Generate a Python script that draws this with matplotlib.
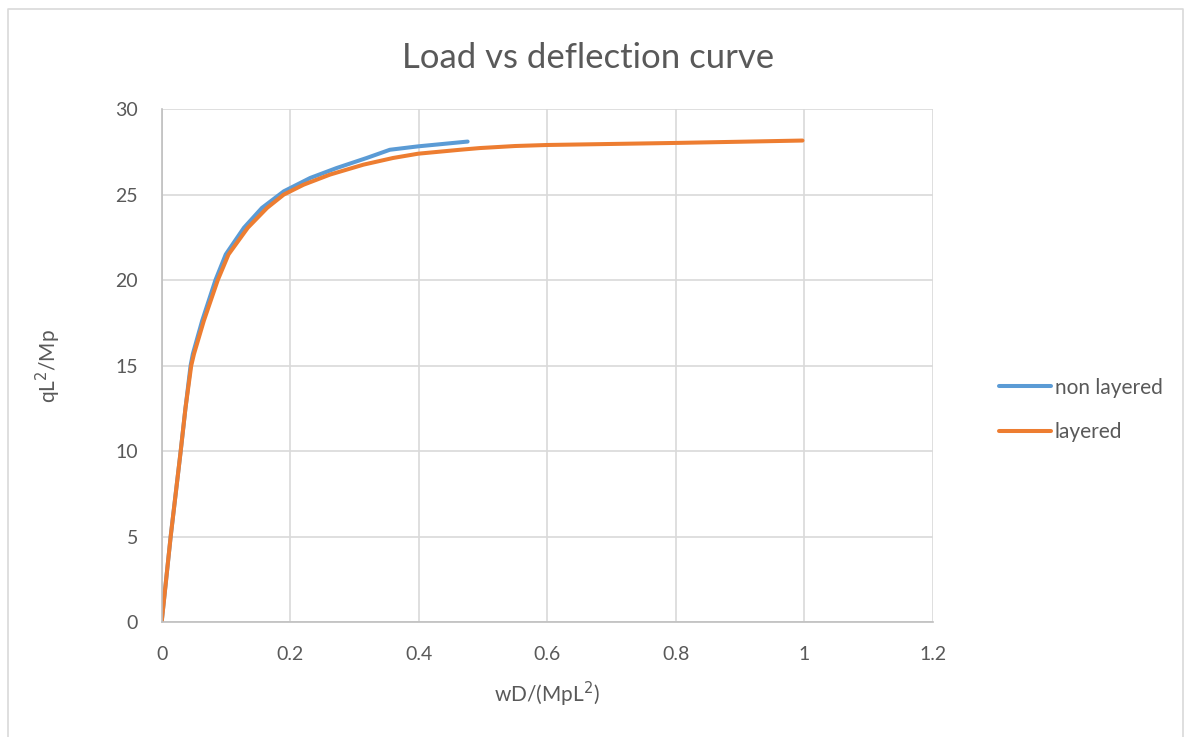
import matplotlib
matplotlib.use('Agg')
import matplotlib.pyplot as plt
from matplotlib.lines import Line2D

plt.rcParams['font.family'] = ['Lato', 'DejaVu Sans']

x_non_layered = [0, 0.014, 0.0296, 0.037, 0.045, 0.0485, 0.063, 0.0837, 0.0997, 0.128, 0.156, 0.190,
                 0.231, 0.272, 0.319, 0.355, 0.399, 0.476]
y_non_layered = [0, 5, 10, 12.5, 15, 15.68, 17.62, 20, 21.5, 23.06, 24.22, 25.19,
                 25.97, 26.55, 27.14, 27.62, 27.82, 28.1]

x_layered = [0, 0.014, 0.0296, 0.037, 0.046, 0.0503, 0.0656, 0.0873, 0.104, 0.134, 0.164, 0.190,
             0.221, 0.262, 0.314, 0.360, 0.399, 0.464, 0.495, 0.55, 0.6, 0.7, 0.8, 0.9, 0.997]
y_layered = [0, 5, 10, 12.5, 15, 15.68, 17.62, 20, 21.5, 23.06, 24.22, 25,
             25.58, 26.17, 26.75, 27.14, 27.39, 27.62, 27.72, 27.84, 27.9, 27.96, 28.02, 28.09, 28.16]

x_ticks = [0, 0.2, 0.4, 0.6, 0.8, 1, 1.2]
x_tick_labels = ['0', '0.2', '0.4', '0.6', '0.8', '1', '1.2']
y_ticks = [0, 5, 10, 15, 20, 25, 30]

blue = '#5B9BD5'
orange = '#ED7D31'
text_col = '#595959'
grid_col = '#D9D9D9'

fig = plt.figure(figsize=(11.87, 7.37), dpi=100)
ax = fig.add_axes([0.1362, 0.156, 0.786 - 0.1362, 0.852 - 0.156])

ax.plot(x_non_layered, y_non_layered, color=blue, lw=2.9, solid_capstyle='round', solid_joinstyle='round', label='non layered')
ax.plot(x_layered, y_layered, color=orange, lw=2.9, solid_capstyle='round', solid_joinstyle='round', label='layered')

ax.set_xlim(0, 1.2)
ax.set_ylim(0, 30)
ax.set_xticks(x_ticks)
ax.set_xticklabels(x_tick_labels)
ax.set_yticks(y_ticks)
ax.grid(True, color=grid_col, lw=1.2)
ax.set_axisbelow(True)
for s in ['top', 'right']:
    ax.spines[s].set_visible(False)
for s in ['left', 'bottom']:
    ax.spines[s].set_color('#BFBFBF')
    ax.spines[s].set_linewidth(1.2)
ax.tick_params(length=0, labelsize=14, colors=text_col)
ax.tick_params(axis='x', pad=17)
ax.tick_params(axis='y', pad=17)

ax.set_xlabel('wD/(MpL$^2$)', fontsize=15, color=text_col, labelpad=12)
ax.set_ylabel('qL$^2$/Mp', fontsize=15, color=text_col, labelpad=38)
fig.text(588 / 1187, 1 - 58 / 737, 'Load vs deflection curve', fontsize=25, color=text_col,
         ha='center', va='center')

handles = [Line2D([0], [0], color=blue, lw=2.9, solid_capstyle='round'),
           Line2D([0], [0], color=orange, lw=2.9, solid_capstyle='round')]
fig.legend(handles, ['non layered', 'layered'], loc='center left',
           bbox_to_anchor=(980 / 1187, 1 - 410 / 737), frameon=False, fontsize=15,
           labelcolor=text_col, handlelength=2.5, handletextpad=0.2, labelspacing=1.2)

# outer chart border (left, top, right)
fig.add_artist(Line2D([8 / 1187, 8 / 1187, 1183 / 1187, 1183 / 1187],
                      [0, 1 - 9 / 737, 1 - 9 / 737, 0], color='#D9D9D9', lw=1.2,
                      transform=fig.transFigure))

fig.savefig('out.png', dpi=100)
